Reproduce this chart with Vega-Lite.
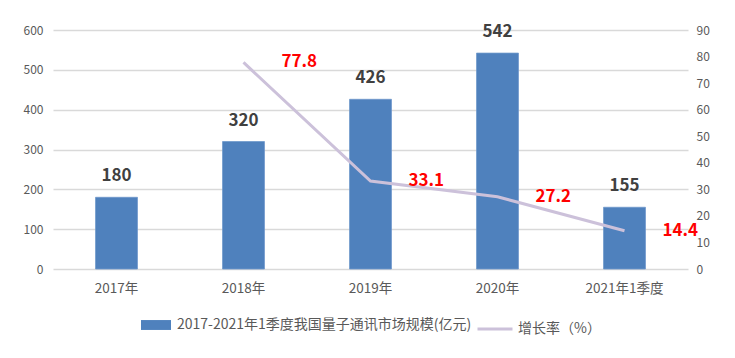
{
  "$schema": "https://vega.github.io/schema/vega-lite/v6.json",
  "width": 635,
  "height": 239,
  "padding": {"left": 23, "top": 23, "right": 5, "bottom": 5},
  "background": "white",
  "config": {
    "font": "Noto Sans CJK SC",
    "view": {"stroke": null},
    "axis": {"labelColor": "#595959", "labelFontSize": 12, "ticks": false, "domain": false, "title": null, "labelFont": "Noto Sans CJK SC"},
    "legend": {"orient": "bottom", "labelColor": "#595959", "labelFontSize": 14, "title": null, "offset": 15, "labelFont": "Noto Sans CJK SC", "labelLimit": 0,
      "layout": {"bottom": {"anchor": "middle", "direction": "horizontal", "margin": 4}}}
  },
  "data": {
    "values": [
      {"cat": "2017年", "value": 180, "rate": null},
      {"cat": "2018年", "value": 320, "rate": 77.8},
      {"cat": "2019年", "value": 426, "rate": 33.1},
      {"cat": "2020年", "value": 542, "rate": 27.2},
      {"cat": "2021年1季度", "value": 155, "rate": 14.4}
    ]
  },
  "encoding": {
    "x": {
      "field": "cat", "type": "nominal", "sort": null,
      "scale": {"paddingInner": 0.67, "paddingOuter": 0.335},
      "axis": {"labelAngle": 0, "labelPadding": 12, "labelFontSize": 13.5, "grid": false}
    }
  },
  "layer": [
    {
      "encoding": {
        "y": {"field": "value", "type": "quantitative", "scale": {"domain": [0, 600]},
          "axis": {"values": [0, 100, 200, 300, 400, 500, 600], "grid": true, "gridColor": "#D9D9D9", "gridWidth": 1.5, "labelPadding": 10, "orient": "left"}}
      },
      "layer": [
        {
          "mark": {"type": "bar", "color": "#4F81BD", "stroke": "#6E98CC", "strokeWidth": 0.8},
          "encoding": {
            "fill": {"datum": "2017-2021年1季度我国量子通讯市场规模(亿元)", "type": "nominal",
              "scale": {"range": ["#4F81BD"]},
              "legend": {"symbolType": "M-1,-0.33H1V0.33H-1Z", "symbolSize": 900, "symbolStrokeWidth": 0, "labelOffset": 6}}
          }
        },
        {
          "mark": {"type": "text", "baseline": "bottom", "dy": -12, "fontSize": 17, "fontWeight": "bold", "color": "#404040"},
          "encoding": {"text": {"field": "value", "type": "quantitative"}}
        }
      ]
    },
    {
      "transform": [{"filter": "datum.rate != null"}],
      "encoding": {
        "y": {"field": "rate", "type": "quantitative", "scale": {"domain": [0, 90]},
          "axis": {"orient": "right", "values": [0, 10, 20, 30, 40, 50, 60, 70, 80, 90], "grid": false, "labelPadding": 8}}
      },
      "layer": [
        {
          "mark": {"type": "line", "strokeWidth": 3, "color": "#CCC1DA"},
          "encoding": {
            "stroke": {"datum": "增长率（%）", "type": "nominal", "scale": {"range": ["#CCC1DA"]},
              "legend": {"symbolType": "stroke", "symbolSize": 1225, "symbolStrokeWidth": 3, "labelOffset": 4}}
          }
        },
        {
          "mark": {"type": "text", "align": "left", "baseline": "middle", "dx": 38, "fontSize": 17, "fontWeight": "bold", "color": "#FF0000"},
          "encoding": {"text": {"field": "rate", "type": "quantitative", "format": ".1f"}}
        }
      ]
    }
  ],
  "resolve": {"scale": {"y": "independent"}}
}
